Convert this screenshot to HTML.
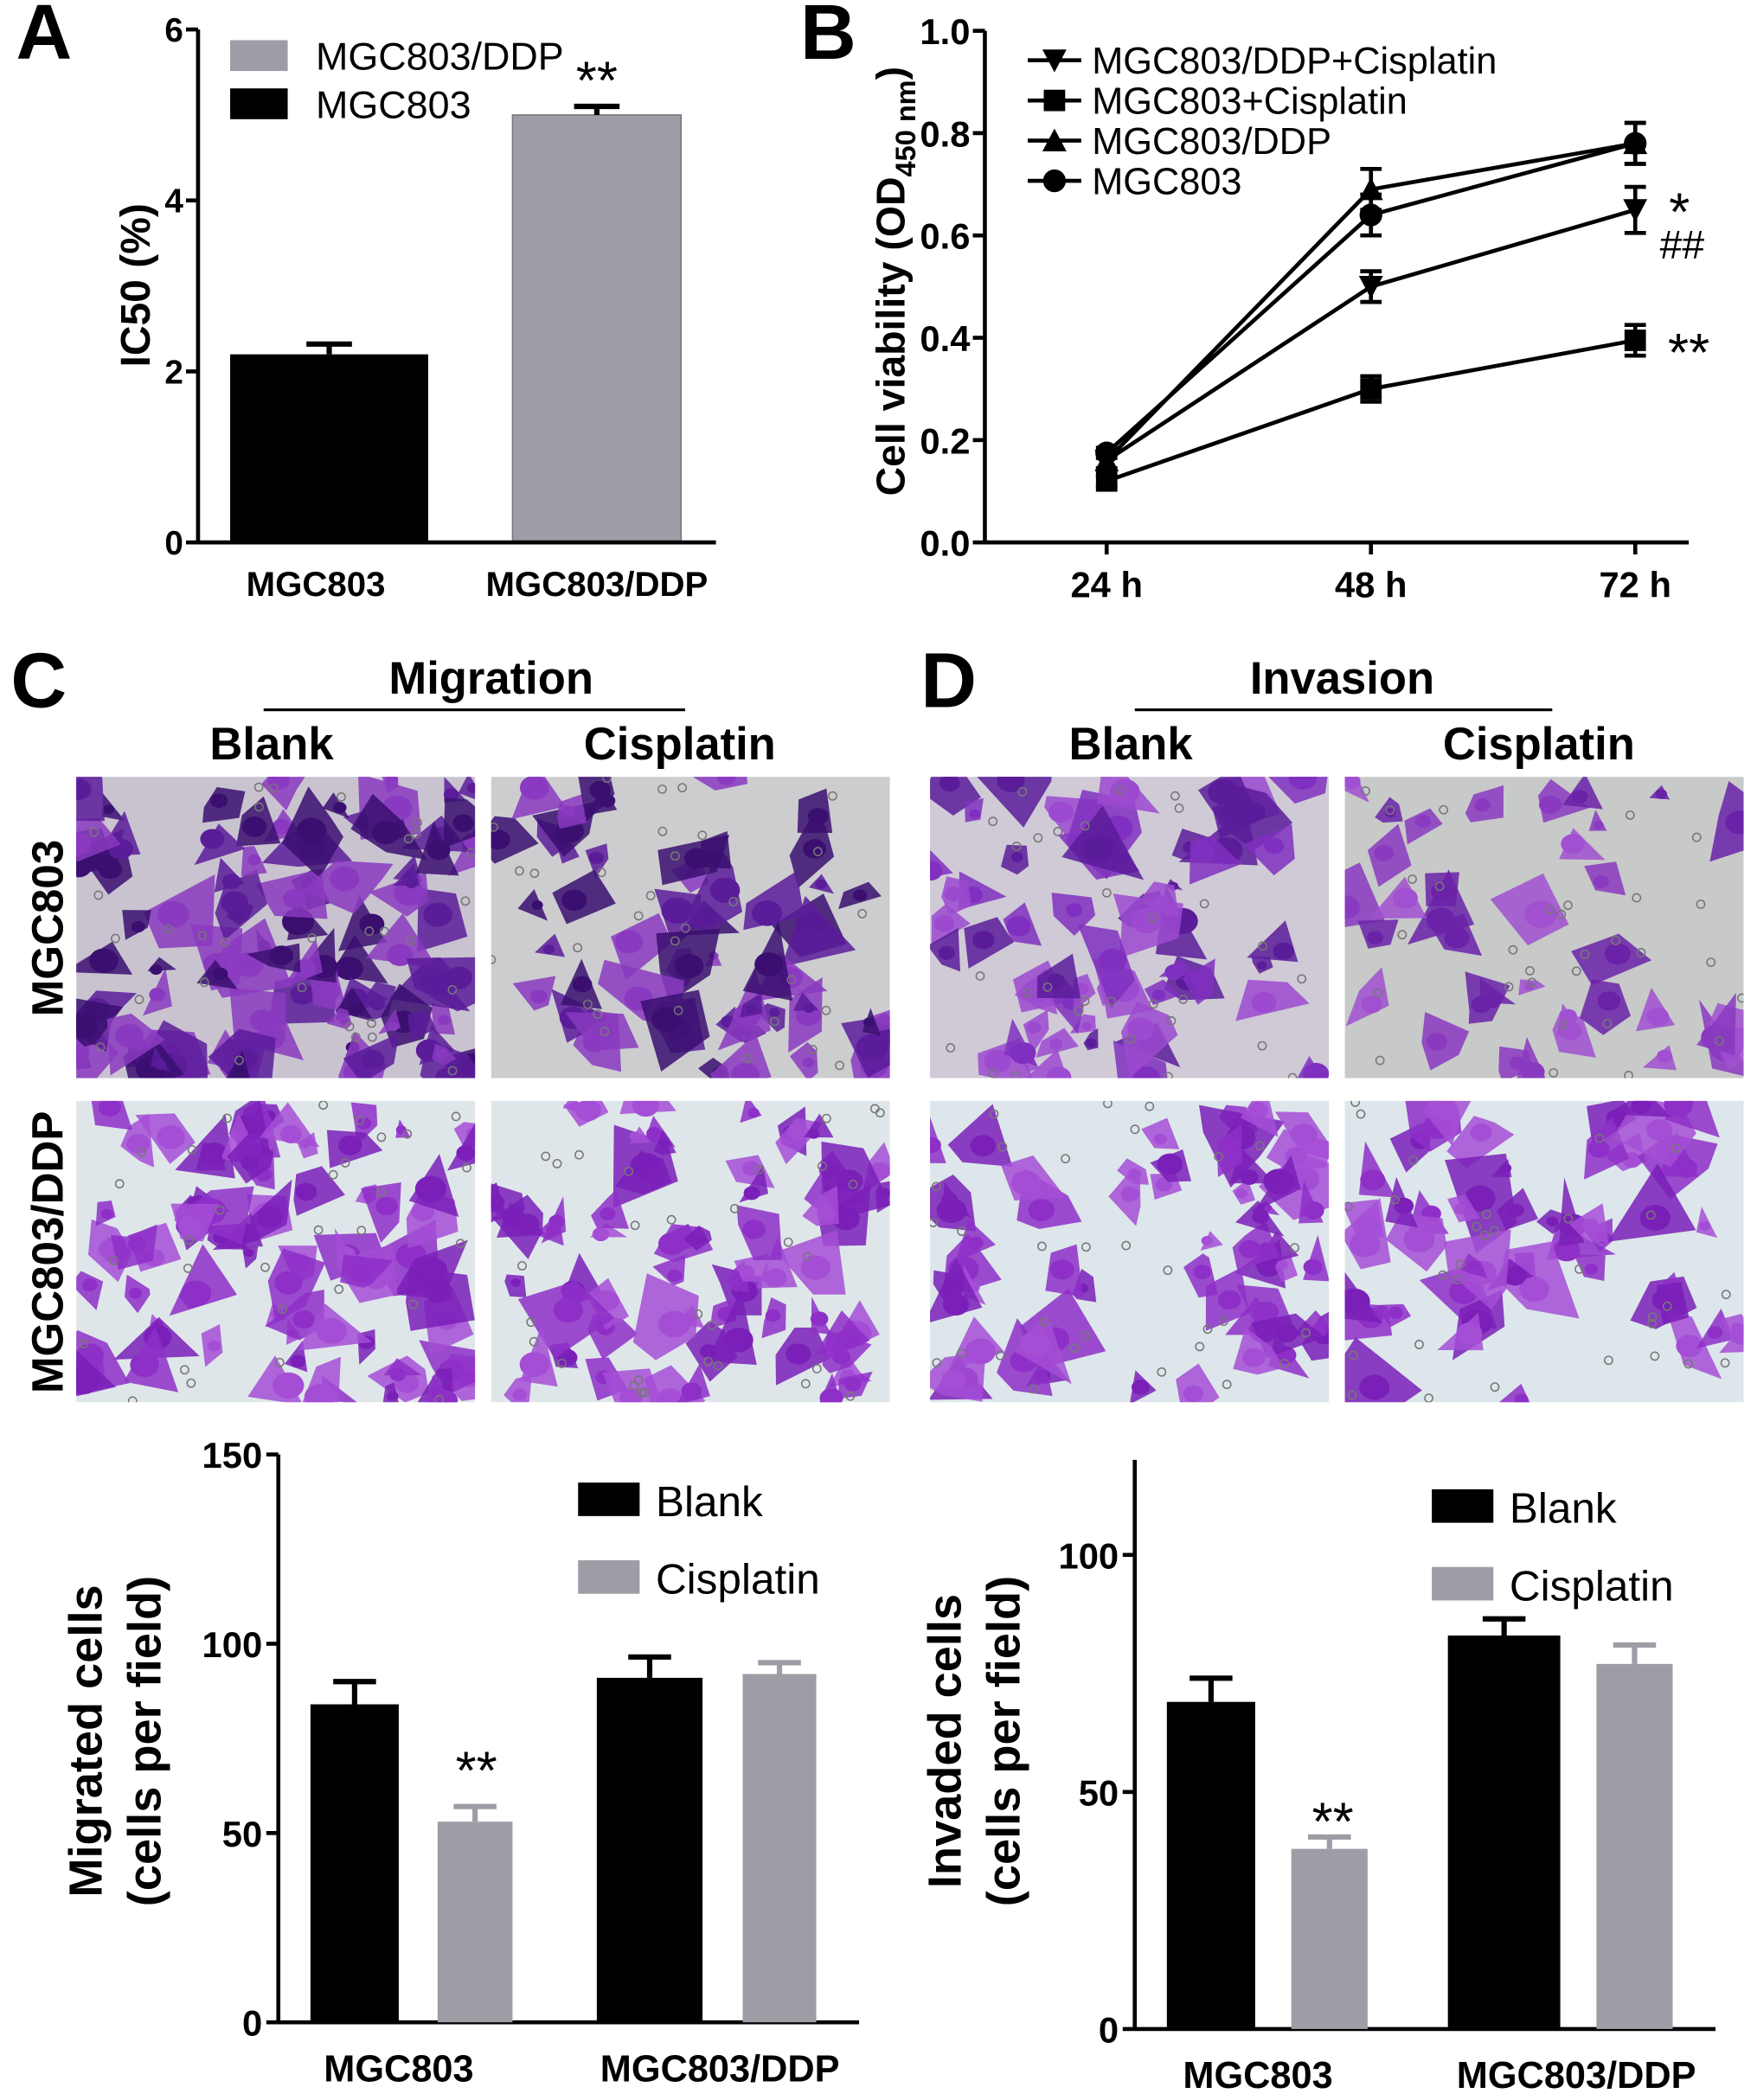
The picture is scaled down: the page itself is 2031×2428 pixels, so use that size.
<!DOCTYPE html>
<html><head><meta charset="utf-8"><style>
html,body{margin:0;padding:0;background:#fff}
svg{display:block}
text{font-family:"Liberation Sans",Arial,sans-serif}
</style></head><body>
<svg id="fig" width="2031" height="2428" viewBox="0 0 1313 1568" preserveAspectRatio="none" xmlns="http://www.w3.org/2000/svg">
<defs>
<clipPath id="c1"><rect x="57" y="580" width="298" height="225"/></clipPath>
<clipPath id="c2"><rect x="367" y="580" width="298" height="225"/></clipPath>
<clipPath id="c3"><rect x="57" y="822" width="298" height="225"/></clipPath>
<clipPath id="c4"><rect x="367" y="822" width="298" height="225"/></clipPath>
<clipPath id="c5"><rect x="695" y="580" width="298" height="225"/></clipPath>
<clipPath id="c6"><rect x="1005" y="580" width="298" height="225"/></clipPath>
<clipPath id="c7"><rect x="695" y="822" width="298" height="225"/></clipPath>
<clipPath id="c8"><rect x="1005" y="822" width="298" height="225"/></clipPath>
</defs>
<g id="layer"></g>
</svg>
<script>
// ---------- Panel A data ----------
const aCategories = ["MGC803", "MGC803/DDP"];
const aValues = [2.2, 5.0];
const aErrors = [0.12, 0.1];
const aTicks = [0, 2, 4, 6];
// ---------- Panel B data ----------
const bTimes = ["24 h", "48 h", "72 h"];
const bSeriesNames = ["MGC803/DDP+Cisplatin", "MGC803+Cisplatin", "MGC803/DDP", "MGC803"];
const bDdpCis = [0.16, 0.50, 0.65];
const bMgcCis = [0.12, 0.30, 0.395];
const bDdp = [0.16, 0.69, 0.78];
const bMgc = [0.175, 0.64, 0.78];
const bErrDdpCis = [0.015, 0.03, 0.045];
const bErrMgcCis = [0.01, 0.025, 0.03];
const bErrDdp = [0.015, 0.04, 0.04];
const bErrMgc = [0.01, 0.04, 0.04];
const bTicks = [0.0, 0.2, 0.4, 0.6, 0.8, 1.0];
// ---------- Panel C chart data ----------
const cGroups = ["MGC803", "MGC803/DDP"];
const cBlank = [84, 91];
const cCis = [53, 92];
const cBlankErr = [6, 5.5];
const cCisErr = [4, 3];
const cTicks = [0, 50, 100, 150];
// ---------- Panel D chart data ----------
const dGroups = ["MGC803", "MGC803/DDP"];
const dBlank = [69, 83];
const dCis = [38, 77];
const dBlankErr = [5, 3.5];
const dCisErr = [2.5, 4];
const dTicks = [0, 50, 100];

const NS = "http://www.w3.org/2000/svg";
const L = document.getElementById('layer');
function el(tag, attrs, parent, txt){
  const e = document.createElementNS(NS, tag);
  for (const k in attrs) e.setAttribute(k, attrs[k]);
  if (txt !== undefined) e.textContent = txt;
  (parent || L).appendChild(e);
  return e;
}
const GRAY = "#9d9da5";

// ----- Panel letters -----
[["A",12,44],["B",598,44],["C",8,528],["D",688,528]].forEach(p=>{
  const t = el('text',{x:p[1],y:p[2],'font-size':58,'font-weight':'bold'},L,p[0]);
  
  
});

// ===== Panel A =====
(function(){
  const x0=148, yB=405, yT=22, vMax=6;
  const y = v => yB - v/vMax*(yB-yT);
  const g = el('g',{});  
  const bx=[[172,148],[383,126]];
  const fills=["#000",GRAY];
  aValues.forEach((v,i)=>{
    const r = el('rect',{x:bx[i][0],y:y(v),width:bx[i][1],height:yB-y(v),fill:fills[i],stroke:i?'#777':'none','stroke-width':1},g);
    
    
    const cx=bx[i][0]+bx[i][1]/2, ye=y(v+aErrors[i]);
    el('line',{x1:cx,x2:cx,y1:y(v),y2:ye,stroke:'#000','stroke-width':4},g);
    el('line',{x1:cx-17,x2:cx+17,y1:ye,y2:ye,stroke:'#000','stroke-width':4},g);
    const lb = el('text',{x:cx+(i?0:-10),y:445,'font-size':26,'font-weight':'bold','text-anchor':'middle'},g,aCategories[i]);
     
  });
  el('line',{x1:x0,x2:x0,y1:yT,y2:yB+1,stroke:'#000','stroke-width':3},g);
  el('line',{x1:x0,x2:535,y1:yB,y2:yB,stroke:'#000','stroke-width':3},g);
  aTicks.forEach(t=>{
    el('line',{x1:x0-9,x2:x0,y1:y(t),y2:y(t),stroke:'#000','stroke-width':3},g);
    const tl=el('text',{x:x0-11,y:y(t)+9,'font-size':25,'font-weight':'bold','text-anchor':'end'},g,String(t));
     
  });
  const yt=el('text',{x:0,y:0,'font-size':31,'font-weight':'bold','text-anchor':'middle',transform:'translate(112,213) rotate(-90)'},g,'IC50 (%)');
   
  const star=el('text',{x:446,y:74,'font-size':40,'text-anchor':'middle'},g,'**');
   
  const lg=el('g',{},g);  
  el('rect',{x:172,y:30,width:43,height:23,fill:GRAY},lg);
  el('text',{x:236,y:52,'font-size':29},lg,'MGC803/DDP');
  el('rect',{x:172,y:66,width:43,height:23,fill:'#000'},lg);
  el('text',{x:236,y:88,'font-size':29},lg,'MGC803');
})();

// ===== Panel B =====
(function(){
  const x0=736, yB=405, yT=23;
  const y = v => yB - v*(yB-yT);
  const xs = i => 827 + i*197.5;
  const g = el('g',{});  
  el('line',{x1:x0,x2:x0,y1:yT,y2:yB+1,stroke:'#000','stroke-width':3},g);
  el('line',{x1:x0,x2:1262,y1:yB,y2:yB,stroke:'#000','stroke-width':3},g);
  bTicks.forEach(t=>{
    el('line',{x1:x0-9,x2:x0,y1:y(t),y2:y(t),stroke:'#000','stroke-width':3},g);
    const tl=el('text',{x:x0-11,y:y(t)+10,'font-size':27,'font-weight':'bold','text-anchor':'end'},g,t.toFixed(1));
     
  });
  bTimes.forEach((t,i)=>{
    el('line',{x1:xs(i),x2:xs(i),y1:yB,y2:yB+9,stroke:'#000','stroke-width':3},g);
    const tl=el('text',{x:xs(i),y:446,'font-size':27,'font-weight':'bold','text-anchor':'middle'},g,t);
     
  });
  const yt=el('text',{x:0,y:0,'font-size':30,'font-weight':'bold','text-anchor':'middle',transform:'translate(676,210) rotate(-90)'},g);
   
  el('tspan',{},yt,'Cell viability (OD');
  el('tspan',{dy:8,'font-size':21},yt,'450 nm');
  el('tspan',{dy:-8},yt,')');
  function marker(type,cx,cy,p){
    if(type==='down') el('polygon',{points:`${cx-9},${cy-8} ${cx+9},${cy-8} ${cx},${cy+9}`,fill:'#000'},p);
    else if(type==='up') el('polygon',{points:`${cx-9},${cy+8} ${cx+9},${cy+8} ${cx},${cy-9}`,fill:'#000'},p);
    else if(type==='sq') el('rect',{x:cx-8,y:cy-8,width:16,height:16,fill:'#000'},p);
    else el('circle',{cx:cx,cy:cy,r:8.5,fill:'#000'},p);
  }
  const series=[[bDdpCis,bErrDdpCis,'down'],[bMgcCis,bErrMgcCis,'sq'],[bDdp,bErrDdp,'up'],[bMgc,bErrMgc,'circ']];
  series.forEach((s,si)=>{
    const sg=el('g',{},g);
    
    
    el('polyline',{points:s[0].map((v,i)=>xs(i)+','+y(v)).join(' '),fill:'none',stroke:'#000','stroke-width':3},sg);
    s[0].forEach((v,i)=>{
      const cx=xs(i), e=s[1][i];
      el('line',{x1:cx,x2:cx,y1:y(v-e),y2:y(v+e),stroke:'#000','stroke-width':3},sg);
      el('line',{x1:cx-8,x2:cx+8,y1:y(v-e),y2:y(v-e),stroke:'#000','stroke-width':3},sg);
      el('line',{x1:cx-8,x2:cx+8,y1:y(v+e),y2:y(v+e),stroke:'#000','stroke-width':3},sg);
      marker(s[2],cx,y(v),sg);
    });
    const ly=45+si*30;
    const lg=el('g',{},g);  
    el('line',{x1:768,x2:808,y1:ly,y2:ly,stroke:'#000','stroke-width':3},lg);
    marker(s[2],788,ly,lg);
    el('text',{x:816,y:ly+10,'font-size':28},lg,bSeriesNames[si]);
  });
  [['*',1255,172,40],['##',1257,193,30],['**',1262,277,40]].forEach(a=>{
    const t=el('text',{x:a[1],y:a[2],'font-size':a[3],'text-anchor':'middle'},g,a[0]);
     
  });
})();

// ===== Headers C / D =====
function header(cx,lx1,lx2,title,b1,b2,key){
  const g=el('g',{});  
  el('text',{x:cx,y:518,'font-size':34,'font-weight':'bold','text-anchor':'middle'},g,title);
  el('line',{x1:lx1,x2:lx2,y1:530,y2:530,stroke:'#000','stroke-width':2},g);
  el('text',{x:b1,y:567,'font-size':34,'font-weight':'bold','text-anchor':'middle'},g,'Blank');
  el('text',{x:b2,y:567,'font-size':34,'font-weight':'bold','text-anchor':'middle'},g,'Cisplatin');
}
header(367,197,512,'Migration',203,508,'migration');
header(1003,848,1160,'Invasion',845,1150,'invasion');
[['MGC803',693],['MGC803/DDP',935]].forEach(r=>{
  const t=el('text',{x:0,y:0,'font-size':33,'font-weight':'bold','text-anchor':'middle',transform:`translate(47,${r[1]}) rotate(-90)`},L,r[0]);
   
});

// ===== Micrographs (decorative) =====
let seed=7; const rnd=()=>{seed=(seed*16807)%2147483647;return seed/2147483647;};
const imgs=[
 [57,580,'#c9c3d0',['#5b1c9a','#3a0f70','#8a3ac0'],90,'migration-mgc803-blank'],
 [367,580,'#cdcdd0',['#3a0f70','#5b1c9a','#8a3ac0'],55,'migration-mgc803-cisplatin'],
 [57,822,'#dfe6ea',['#8e2fc8','#7a1fb8','#a44ed6'],75,'migration-ddp-blank'],
 [367,822,'#dfe6ea',['#8e2fc8','#7a1fb8','#a44ed6'],65,'migration-ddp-cisplatin'],
 [695,580,'#cfcad6',['#8030c0','#5b1c9a','#9c4ad0'],60,'invasion-mgc803-blank'],
 [1005,580,'#c8c9c9',['#8a3ac0','#6a22a8','#a050d0'],35,'invasion-mgc803-cisplatin'],
 [695,822,'#dde6ea',['#8e2fc8','#7a1fb8','#a44ed6'],55,'invasion-ddp-blank'],
 [1005,822,'#dde6ea',['#8e2fc8','#7a1fb8','#a44ed6'],50,'invasion-ddp-cisplatin']];
imgs.forEach((m,k)=>{
  const g=el('g',{'clip-path':`url(#c${k+1})`});
   
  el('rect',{x:m[0],y:m[1],width:298,height:225,fill:m[2]},g);
  for(let i=0;i<m[4];i++){
    const cx=m[0]+rnd()*298, cy=m[1]+rnd()*225, r=6+rnd()*14;
    const pts=[];const n=3+Math.floor(rnd()*3);
    for(let j=0;j<n;j++){const a=j/n*6.283+rnd();const rr=r*(0.8+rnd()*1.4);pts.push((cx+Math.cos(a)*rr).toFixed(1)+','+(cy+Math.sin(a)*rr).toFixed(1));}
    el('polygon',{points:pts.join(' '),fill:m[3][i%3],opacity:0.85},g);
    el('ellipse',{cx:cx,cy:cy,rx:r*0.6,ry:r*0.5,fill:m[3][i%3]},g);
  }
  for(let i=0;i<30;i++) el('circle',{cx:m[0]+rnd()*298,cy:m[1]+rnd()*225,r:3,fill:'none',stroke:'#777','stroke-width':1},g);
});

// ===== Bottom bar charts =====
function barChart(o){
  const g=el('g',{});  
  const y=v=>o.yB-v*o.k;
  el('line',{x1:o.x0,x2:o.x0,y1:o.yTop,y2:o.yB+1,stroke:'#000','stroke-width':3},g);
  el('line',{x1:o.x0,x2:o.xEnd,y1:o.yB,y2:o.yB,stroke:'#000','stroke-width':3},g);
  o.ticks.forEach(t=>{
    el('line',{x1:o.x0-9,x2:o.x0,y1:y(t),y2:y(t),stroke:'#000','stroke-width':3},g);
    const tl=el('text',{x:o.x0-12,y:y(t)+10,'font-size':27,'font-weight':'bold','text-anchor':'end'},g,String(t));
     
  });
  o.groups.forEach((gn,i)=>{
    [[o.blank,o.blankErr,'#000',o.bx[i][0],o.bx[i][1],'blank'],[o.cis,o.cisErr,GRAY,o.bx[i][2],o.bx[i][3],'cisplatin']].forEach(s=>{
      const v=s[0][i];
      const r=el('rect',{x:s[3],y:y(v),width:s[4],height:o.yB-y(v),fill:s[2]},g);
      
      
      const cx=s[3]+s[4]/2, ye=y(v+s[1][i]);
      el('line',{x1:cx,x2:cx,y1:y(v),y2:ye,stroke:s[2],'stroke-width':4},g);
      el('line',{x1:cx-16,x2:cx+16,y1:ye,y2:ye,stroke:s[2],'stroke-width':4},g);
    });
    const tl=el('text',{x:o.lx[i],y:o.yB+44,'font-size':28,'font-weight':'bold','text-anchor':'middle'},g,gn);
     
  });
  const yt=el('text',{x:0,y:0,'font-size':35,'font-weight':'bold','text-anchor':'middle',transform:`translate(${o.tx},1300) rotate(-90)`},g);
   
  el('tspan',{x:0,dy:0},yt,o.title);
  el('tspan',{x:0,dy:44},yt,'(cells per field)');
  const lg=el('g',{},g);  
  el('rect',{x:o.legX,y:o.legY,width:46,height:25,fill:'#000'},lg);
  el('text',{x:o.legX+58,y:o.legY+25,'font-size':32},lg,'Blank');
  el('rect',{x:o.legX,y:o.legY+58,width:46,height:25,fill:GRAY},lg);
  el('text',{x:o.legX+58,y:o.legY+83,'font-size':32},lg,'Cisplatin');
  const st=el('text',{x:o.star[0],y:o.star[1],'font-size':40,'text-anchor':'middle'},g,'**');
   
}
barChart({name:'chart-c-migrated-cells',x0:208,xEnd:642,yB:1510,yTop:1086,k:424/150,ticks:cTicks,
  groups:cGroups,blank:cBlank,cis:cCis,blankErr:cBlankErr,cisErr:cCisErr,
  bx:[[232,66,327,56],[446,79,555,55]],lx:[298,538],tx:76,title:'Migrated cells',
  legX:432,legY:1107,star:[356,1336]});
barChart({name:'chart-d-invaded-cells',x0:848,xEnd:1282,yB:1515,yTop:1090,k:354/100,ticks:dTicks,
  groups:dGroups,blank:dBlank,cis:dCis,blankErr:dBlankErr,cisErr:dCisErr,
  bx:[[872,66,965,57],[1082,84,1193,57]],lx:[940,1178],tx:718,title:'Invaded cells',
  legX:1070,legY:1112,star:[996,1374]});
</script>
</body></html>
